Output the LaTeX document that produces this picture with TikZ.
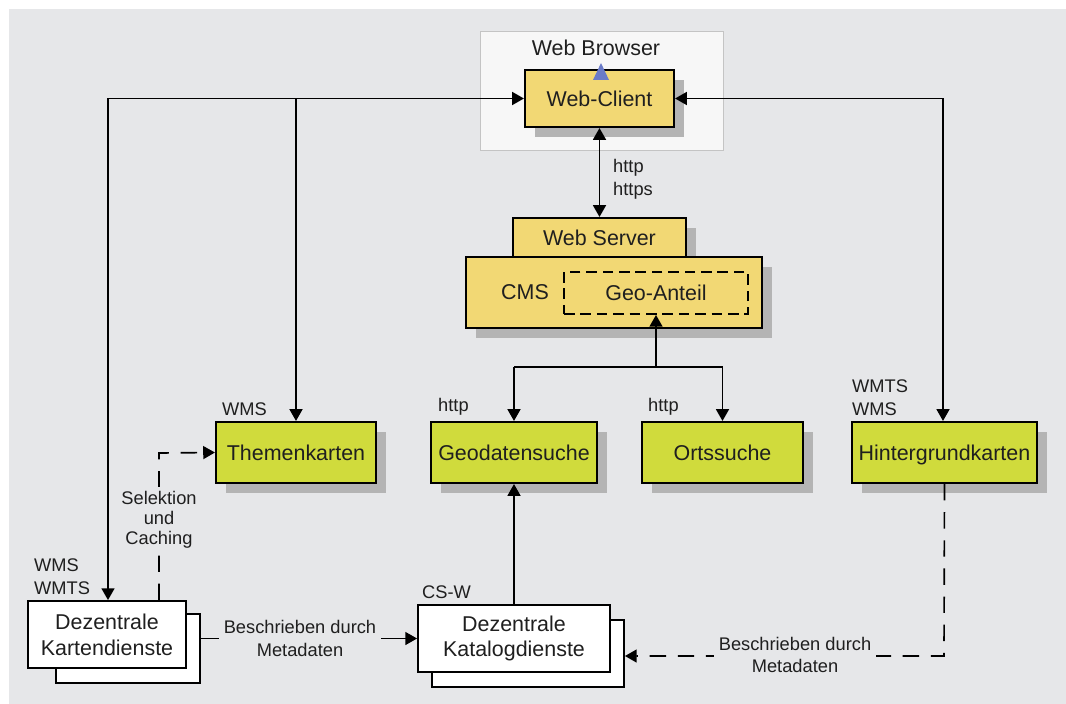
\documentclass[tikz,border=0pt]{standalone}
\usepackage{fontspec}
\setmainfont{Liberation Sans}
\usetikzlibrary{arrows.meta,shadows}

\definecolor{bg}{HTML}{E6E7E9}
\definecolor{frame}{HTML}{F7F7F7}
\definecolor{framedraw}{HTML}{C4C4C4}
\definecolor{boxyellow}{HTML}{F2D874}
\definecolor{boxgreen}{HTML}{D0DB3C}
\definecolor{shadowgrey}{HTML}{B4B4B4}
\definecolor{triblue}{HTML}{6A7BC8}
\definecolor{ink}{HTML}{1F1F1F}

\newcommand\bigtxt{\fontsize{18.3}{22}\selectfont}
\newcommand\smalltxt{\fontsize{15.6}{19.5}\selectfont}

\begin{document}
\begin{tikzpicture}[x=0.03cm,y=-0.03cm,text=ink]
%define

\tikzstyle{box_y} = [rectangle, inner sep=0pt, text centered, text height=13.2pt, text depth=0pt, draw=black, line width=1.8pt, fill=boxyellow, font=\bigtxt]
\tikzstyle{box_g} = [rectangle, inner sep=0pt, minimum height=1.83cm, text centered, text height=13.2pt, text depth=0pt, draw=black, line width=1.8pt, fill=boxgreen, font=\bigtxt]
\tikzstyle{box_w} = [rectangle, inner sep=0pt, minimum height=2.01cm, align=center, draw=black, line width=1.6pt, fill=white, font=\bigtxt]
\tikzstyle{shade} = [drop shadow={shadow xshift=0.3cm, shadow yshift=-0.3cm, fill=shadowgrey, opacity=1}]
\tikzstyle{tag} = [inner sep=0pt, anchor=west, align=left, font=\smalltxt]
\tikzstyle{gaptag} = [inner sep=4pt, fill=bg, align=center, font=\smalltxt]
\tikzstyle{arrow} = [-{Triangle[length=10pt,width=11pt]}, line width=1.4pt]
\tikzstyle{arrowd} = [{Triangle[length=10pt,width=11pt]}-{Triangle[length=10pt,width=11pt]}, line width=1.4pt]
\tikzstyle{arrowx} = [arrow, dash pattern=on 14pt off 10pt]

\useasboundingbox (0,0) rectangle (1066,704);
%background
\fill[white](0,0)rectangle(1066,704);
\fill[bg](9,9)rectangle(1066,704);

%browser
\node[rectangle, fill=frame, draw=framedraw, line width=0.6pt, minimum width=7.29cm, minimum height=3.57cm](browser) at (601.5,90.5){};
\node[font=\bigtxt](browser_lbl) at (596,48){Web Browser};
\node[box_y, shade, minimum width=4.47cm, minimum height=1.71cm](client) at (599.5,98.5){Web-Client};
\fill[triblue](601,63)--(593,80)--(609,80)--cycle;

%server
\node[box_y, shade, minimum width=5.19cm, minimum height=1.17cm](server) at (599.5,237.5){Web Server};
\node[box_y, shade, minimum width=8.88cm, minimum height=2.13cm](cms) at (614,292.5){};
\node[font=\bigtxt](cms_lbl) at (525,292){CMS};
\node[rectangle, draw=black, line width=1.6pt, dash pattern=on 9pt off 5pt, minimum width=5.52cm, minimum height=1.26cm, font=\bigtxt](geo) at (656,293){Geo-Anteil};

%services
\node[box_g, shade, minimum width=4.8cm](themen) at (296,452.5){Themenkarten};
\node[box_g, shade, minimum width=4.98cm](geosuche) at (514,452.5){Geodatensuche};
\node[box_g, shade, minimum width=4.83cm](orts) at (722.5,452.5){Ortssuche};
\node[box_g, shade, minimum width=5.55cm](hinter) at (944.5,452.5){Hintergrundkarten};

%decentral
\node[box_w, minimum width=4.32cm, minimum height=2.07cm](kart_back) at (128,648.5){};
\node[box_w, minimum width=4.74cm](kart) at (107,634.5){Dezentrale\\Kartendienste};
\node[box_w, minimum width=5.76cm](katalog_back) at (528,653.5){};
\node[box_w, minimum width=5.76cm](katalog) at (514,638.5){Dezentrale\\Katalogdienste};

%tags
\node[tag](t_https) at (613,179){http\\https};
\node[tag](t_wms) at (222,409){WMS};
\node[tag](t_http1) at (438,407){http};
\node[tag](t_http2) at (648,407){http};
\node[tag](t_hinter) at (852,397.5){WMTS\\WMS};
\node[tag](t_kart) at (34,576.5){WMS\\WMTS};
\node[tag](t_csw) at (422,592){CS-W};

%line
\coordinate(j_left) at (108,98.5);
\coordinate(j_themen) at (296,98.5);
\coordinate(j_right) at (943,98.5);
\coordinate(j_geo) at (656,367);
\coordinate(j_sel) at (159,453);
\coordinate(j_meta) at (944,656);

\draw[arrow](j_left)--(client.west); %Kartendienste->Client
\draw[arrow](j_left)--(j_left |- kart.north); %->Kartendienste
\draw[arrow](j_themen)--(themen.north); %->Themenkarten
\draw[arrow](j_right)--(client.east); %Hintergrund->Client
\draw[arrow](j_right)--(j_right |- hinter.north); %->Hintergrund
\draw[arrowd](client.south)--(server.north);
\draw[arrow](j_geo)--(geo.south);
\draw[line width=1.4pt](j_geo -| geosuche.north)--(j_geo -| orts.north);
\draw[arrow](j_geo -| geosuche.north)--(geosuche.north);
\draw[arrow](j_geo -| orts.north)--(orts.north);
\draw[arrow](katalog.north)--(geosuche.south);
\draw[arrowx](kart.north -| j_sel)--(j_sel)--(themen.west); %Selektion
\draw[arrow](kart_back.east |- katalog.west)--(katalog.west);
\draw[arrowx](hinter.south)--(j_meta)--(j_meta -| katalog_back.east);

\node[gaptag, font=\fontsize{15.6}{17}\selectfont](l_sel) at (159,520){Selektion\\und\\Caching};
\node[gaptag](l_meta1) at (300,638.5){Beschrieben durch\\Metadaten};
\node[gaptag](l_meta2) at (795,655){Beschrieben durch\\Metadaten};

\end{tikzpicture}
\end{document}
